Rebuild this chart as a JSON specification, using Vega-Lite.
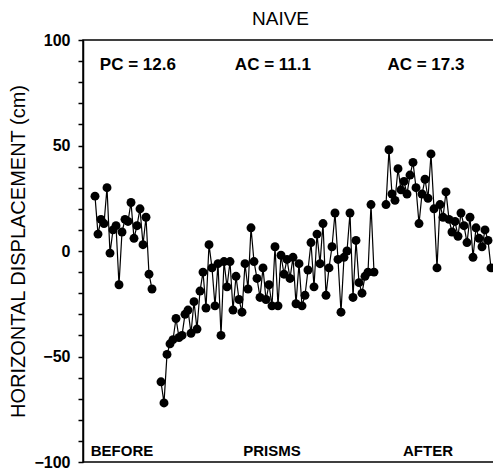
{
  "$schema": "https://vega.github.io/schema/vega-lite/v6.json",
  "autosize": {"type": "none"},
  "padding": {"left": 83, "top": 40, "right": 0, "bottom": 13},
  "width": 411,
  "height": 422,
  "background": "white",
  "config": {"view": {"stroke": "black", "strokeWidth": 1.5}, "font": "Liberation Sans"},
  "title": {"text": "NAIVE", "fontSize": 19, "fontWeight": "normal", "color": "black", "offset": 3, "dx": -8, "anchor": "middle"},
  "datasets": {
    "throws": [
      {"trial": 4, "disp": 26, "phase": "BEFORE"},
      {"trial": 5, "disp": 8, "phase": "BEFORE"},
      {"trial": 6, "disp": 15, "phase": "BEFORE"},
      {"trial": 7, "disp": 13, "phase": "BEFORE"},
      {"trial": 8, "disp": 30, "phase": "BEFORE"},
      {"trial": 9, "disp": -1, "phase": "BEFORE"},
      {"trial": 10, "disp": 10, "phase": "BEFORE"},
      {"trial": 11, "disp": 12, "phase": "BEFORE"},
      {"trial": 12, "disp": -16, "phase": "BEFORE"},
      {"trial": 13, "disp": 9, "phase": "BEFORE"},
      {"trial": 14, "disp": 15, "phase": "BEFORE"},
      {"trial": 15, "disp": 14, "phase": "BEFORE"},
      {"trial": 16, "disp": 23, "phase": "BEFORE"},
      {"trial": 17, "disp": 6, "phase": "BEFORE"},
      {"trial": 18, "disp": 12, "phase": "BEFORE"},
      {"trial": 19, "disp": 20, "phase": "BEFORE"},
      {"trial": 20, "disp": 3, "phase": "BEFORE"},
      {"trial": 21, "disp": 16, "phase": "BEFORE"},
      {"trial": 22, "disp": -11, "phase": "BEFORE"},
      {"trial": 23, "disp": -18, "phase": "BEFORE"},
      {"trial": 26, "disp": -62, "phase": "PRISMS"},
      {"trial": 27, "disp": -72, "phase": "PRISMS"},
      {"trial": 28, "disp": -49, "phase": "PRISMS"},
      {"trial": 29, "disp": -44, "phase": "PRISMS"},
      {"trial": 30, "disp": -42, "phase": "PRISMS"},
      {"trial": 31, "disp": -32, "phase": "PRISMS"},
      {"trial": 32, "disp": -41, "phase": "PRISMS"},
      {"trial": 33, "disp": -40, "phase": "PRISMS"},
      {"trial": 34, "disp": -30, "phase": "PRISMS"},
      {"trial": 35, "disp": -28, "phase": "PRISMS"},
      {"trial": 36, "disp": -39, "phase": "PRISMS"},
      {"trial": 37, "disp": -24, "phase": "PRISMS"},
      {"trial": 38, "disp": -37, "phase": "PRISMS"},
      {"trial": 39, "disp": -19, "phase": "PRISMS"},
      {"trial": 40, "disp": -10, "phase": "PRISMS"},
      {"trial": 41, "disp": -27, "phase": "PRISMS"},
      {"trial": 42, "disp": 3, "phase": "PRISMS"},
      {"trial": 43, "disp": -8, "phase": "PRISMS"},
      {"trial": 44, "disp": -26, "phase": "PRISMS"},
      {"trial": 45, "disp": -6, "phase": "PRISMS"},
      {"trial": 46, "disp": -40, "phase": "PRISMS"},
      {"trial": 47, "disp": -5, "phase": "PRISMS"},
      {"trial": 48, "disp": -17, "phase": "PRISMS"},
      {"trial": 49, "disp": -5, "phase": "PRISMS"},
      {"trial": 50, "disp": -28, "phase": "PRISMS"},
      {"trial": 51, "disp": -12, "phase": "PRISMS"},
      {"trial": 52, "disp": -23, "phase": "PRISMS"},
      {"trial": 53, "disp": -29, "phase": "PRISMS"},
      {"trial": 54, "disp": -6, "phase": "PRISMS"},
      {"trial": 55, "disp": -18, "phase": "PRISMS"},
      {"trial": 56, "disp": 11, "phase": "PRISMS"},
      {"trial": 57, "disp": -5, "phase": "PRISMS"},
      {"trial": 58, "disp": -13, "phase": "PRISMS"},
      {"trial": 59, "disp": -22, "phase": "PRISMS"},
      {"trial": 60, "disp": -8, "phase": "PRISMS"},
      {"trial": 61, "disp": -23, "phase": "PRISMS"},
      {"trial": 62, "disp": -16, "phase": "PRISMS"},
      {"trial": 63, "disp": -26, "phase": "PRISMS"},
      {"trial": 64, "disp": 2, "phase": "PRISMS"},
      {"trial": 65, "disp": -26, "phase": "PRISMS"},
      {"trial": 66, "disp": -2, "phase": "PRISMS"},
      {"trial": 67, "disp": -11, "phase": "PRISMS"},
      {"trial": 68, "disp": -4, "phase": "PRISMS"},
      {"trial": 69, "disp": -13, "phase": "PRISMS"},
      {"trial": 70, "disp": -3, "phase": "PRISMS"},
      {"trial": 71, "disp": -25, "phase": "PRISMS"},
      {"trial": 72, "disp": -6, "phase": "PRISMS"},
      {"trial": 73, "disp": -26, "phase": "PRISMS"},
      {"trial": 74, "disp": -21, "phase": "PRISMS"},
      {"trial": 75, "disp": -9, "phase": "PRISMS"},
      {"trial": 76, "disp": 4, "phase": "PRISMS"},
      {"trial": 77, "disp": -17, "phase": "PRISMS"},
      {"trial": 78, "disp": 8, "phase": "PRISMS"},
      {"trial": 79, "disp": -6, "phase": "PRISMS"},
      {"trial": 80, "disp": 13, "phase": "PRISMS"},
      {"trial": 81, "disp": -21, "phase": "PRISMS"},
      {"trial": 82, "disp": -8, "phase": "PRISMS"},
      {"trial": 83, "disp": 2, "phase": "PRISMS"},
      {"trial": 84, "disp": 18, "phase": "PRISMS"},
      {"trial": 85, "disp": -4, "phase": "PRISMS"},
      {"trial": 86, "disp": -29, "phase": "PRISMS"},
      {"trial": 87, "disp": -3, "phase": "PRISMS"},
      {"trial": 88, "disp": 0, "phase": "PRISMS"},
      {"trial": 89, "disp": 18, "phase": "PRISMS"},
      {"trial": 90, "disp": -22, "phase": "PRISMS"},
      {"trial": 91, "disp": 5, "phase": "PRISMS"},
      {"trial": 92, "disp": -15, "phase": "PRISMS"},
      {"trial": 93, "disp": -20, "phase": "PRISMS"},
      {"trial": 94, "disp": -12, "phase": "PRISMS"},
      {"trial": 95, "disp": -10, "phase": "PRISMS"},
      {"trial": 96, "disp": 22, "phase": "PRISMS"},
      {"trial": 97, "disp": -10, "phase": "PRISMS"},
      {"trial": 101, "disp": 22, "phase": "AFTER"},
      {"trial": 102, "disp": 48, "phase": "AFTER"},
      {"trial": 103, "disp": 27, "phase": "AFTER"},
      {"trial": 104, "disp": 24, "phase": "AFTER"},
      {"trial": 105, "disp": 39, "phase": "AFTER"},
      {"trial": 106, "disp": 29, "phase": "AFTER"},
      {"trial": 107, "disp": 33, "phase": "AFTER"},
      {"trial": 108, "disp": 27, "phase": "AFTER"},
      {"trial": 109, "disp": 36, "phase": "AFTER"},
      {"trial": 110, "disp": 42, "phase": "AFTER"},
      {"trial": 111, "disp": 30, "phase": "AFTER"},
      {"trial": 112, "disp": 13, "phase": "AFTER"},
      {"trial": 113, "disp": 27, "phase": "AFTER"},
      {"trial": 114, "disp": 34, "phase": "AFTER"},
      {"trial": 115, "disp": 25, "phase": "AFTER"},
      {"trial": 116, "disp": 46, "phase": "AFTER"},
      {"trial": 117, "disp": 20, "phase": "AFTER"},
      {"trial": 118, "disp": -8, "phase": "AFTER"},
      {"trial": 119, "disp": 22, "phase": "AFTER"},
      {"trial": 120, "disp": 16, "phase": "AFTER"},
      {"trial": 121, "disp": 28, "phase": "AFTER"},
      {"trial": 122, "disp": 15, "phase": "AFTER"},
      {"trial": 123, "disp": 9, "phase": "AFTER"},
      {"trial": 124, "disp": 14, "phase": "AFTER"},
      {"trial": 125, "disp": 7, "phase": "AFTER"},
      {"trial": 126, "disp": 18, "phase": "AFTER"},
      {"trial": 127, "disp": 12, "phase": "AFTER"},
      {"trial": 128, "disp": 4, "phase": "AFTER"},
      {"trial": 129, "disp": 16, "phase": "AFTER"},
      {"trial": 130, "disp": -3, "phase": "AFTER"},
      {"trial": 131, "disp": 11, "phase": "AFTER"},
      {"trial": 132, "disp": 6, "phase": "AFTER"},
      {"trial": 133, "disp": 2, "phase": "AFTER"},
      {"trial": 134, "disp": 10, "phase": "AFTER"},
      {"trial": 135, "disp": 5, "phase": "AFTER"},
      {"trial": 136, "disp": -8, "phase": "AFTER"}
    ],
    "topnotes": [
      {"label": "PC = 12.6", "trial": 18.3, "disp": 88},
      {"label": "AC = 11.1", "trial": 63.3, "disp": 88},
      {"label": "AC = 17.3", "trial": 114.3, "disp": 88}
    ],
    "bottomnotes": [
      {"label": "BEFORE", "trial": 13, "disp": -95},
      {"label": "PRISMS", "trial": 63, "disp": -95},
      {"label": "AFTER", "trial": 115, "disp": -95}
    ]
  },
  "layer": [
    {
      "data": {"name": "throws"},
      "mark": {"type": "line", "color": "black", "strokeWidth": 1.2},
      "encoding": {
        "x": {"field": "trial", "type": "quantitative", "scale": {"domain": [0, 137], "nice": false}, "axis": null},
        "y": {
          "field": "disp", "type": "quantitative",
          "scale": {"domain": [-100, 100], "nice": false},
          "axis": {
            "title": "HORIZONTAL DISPLACEMENT (cm)",
            "titleFontSize": 20, "titleFontWeight": "normal", "titleColor": "black", "titleFont": "Liberation Sans",
            "titleX": -55, "titleY": 211, "titleAngle": -90, "titleAlign": "center", "titleBaseline": "bottom",
            "tickCount": 20,
            "labelExpr": "(datum.value % 50 == 0) ? datum.label : ''",
            "labelFontSize": 16, "labelFontWeight": "bold", "labelColor": "black", "labelPadding": 8,
            "labelOverlap": false, "labelFlush": false,
            "ticks": true, "tickSize": 5, "tickColor": "black", "tickWidth": 1.5, "tickOpacity": 1,
            "domainColor": "black", "domainWidth": 1.5, "grid": false
          }
        },
        "detail": {"field": "phase"}
      }
    },
    {
      "mark": {"type": "rule", "color": "black", "strokeWidth": 1.5},
      "encoding": {"y": {"datum": 0, "type": "quantitative"}}
    },
    {
      "data": {"name": "throws"},
      "mark": {"type": "point", "filled": true, "color": "black", "opacity": 1, "size": 80},
      "encoding": {
        "x": {"field": "trial", "type": "quantitative"},
        "y": {"field": "disp", "type": "quantitative"}
      }
    },
    {
      "data": {"name": "topnotes"},
      "mark": {"type": "text", "fontSize": 17, "font": "Liberation Sans", "fontWeight": "bold", "color": "black"},
      "encoding": {
        "x": {"field": "trial", "type": "quantitative"},
        "y": {"field": "disp", "type": "quantitative"},
        "text": {"field": "label"}
      }
    },
    {
      "data": {"name": "bottomnotes"},
      "mark": {"type": "text", "fontSize": 15, "font": "Liberation Sans", "fontWeight": "bold", "color": "black"},
      "encoding": {
        "x": {"field": "trial", "type": "quantitative"},
        "y": {"field": "disp", "type": "quantitative"},
        "text": {"field": "label"}
      }
    }
  ]
}
